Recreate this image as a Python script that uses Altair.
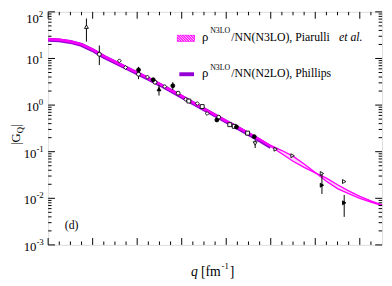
import altair as alt
import pandas as pd

FONT = "Liberation Serif"
W, H = 341, 238
MAGENTA = "#ff00ff"
VIOLET = "#9400d3"

# ---------------- curves ----------------
q_phillips = [0, 0.25, 0.5, 0.75, 1.0, 1.25, 1.5, 1.75, 2.0, 2.25, 2.5, 2.75,
              3.0, 3.25, 3.5, 3.75, 4.0, 4.25, 4.5, 4.75, 5.0]
g_phillips = [25.2, 24.5, 22.6, 19.5, 15.1, 10.9, 8.29, 6.30, 4.83, 3.67, 2.78, 2.06,
              1.51, 1.107, 0.811, 0.602, 0.441, 0.325, 0.240, 0.175, 0.125]

q_band = [0, 0.25, 0.5, 0.75, 1.0, 1.25, 1.5, 1.75, 2.0, 2.25, 2.5, 2.75,
          3.0, 3.25, 3.5, 3.75, 4.0, 4.25, 4.5, 4.75, 5.0,
          5.25, 5.5, 5.75, 6.0, 6.25, 6.5, 6.75, 7.0, 7.25, 7.5]
g_band_a = [26.5, 25.8, 23.8, 20.6, 15.9, 11.5, 8.74, 6.64, 5.09, 3.87, 2.93, 2.17,
            1.59, 1.167, 0.855, 0.634, 0.465, 0.349, 0.258, 0.189, 0.136,
            0.106, 0.0804, 0.0543, 0.0359, 0.0232, 0.0162, 0.0126, 0.0100, 0.00828, 0.00695]
g_band_b = [25.1, 24.4, 22.6, 19.5, 15.1, 10.9, 8.27, 6.28, 4.82, 3.66, 2.77, 2.05,
            1.51, 1.104, 0.809, 0.600, 0.440, 0.330, 0.244, 0.179, 0.129,
            0.0902, 0.0624, 0.0462, 0.0351, 0.0272, 0.0195, 0.0145, 0.0110, 0.00875, 0.00721]

# ---------------- data points ----------------
tri_up_open_q = [0.86]
tri_up_open_g = [48]
circ_open_q = [1.15, 2.03, 2.40, 2.92, 3.83]
circ_open_g = [12.3, 4.6, 3.1, 1.8, 0.55]
diam_open_q = [1.60, 1.74, 2.23, 2.62, 3.09, 3.35, 3.57]
diam_open_g = [8.9, 6.4, 4.0, 2.5, 1.33, 1.08, 0.66]
sq_open_q = [3.16, 3.46, 4.08, 4.18, 4.48]
sq_open_g = [1.22, 0.93, 0.38, 0.35, 0.25]
circ_fill_q = [2.03, 2.36, 2.80, 3.79, 4.23, 4.63]
circ_fill_g = [5.7, 3.5, 2.6, 0.48, 0.34, 0.21]
tri_up_fill_q = [2.49]
tri_up_fill_g = [2.2]
tri_dn_open_q = [4.65]
tri_dn_open_g = [0.15]
tri_rt_open_q = [5.11, 5.49, 6.15, 6.65]
tri_rt_open_g = [0.113, 0.082, 0.034, 0.0229]
tri_rt_fill_q = [6.15, 6.65]
tri_rt_fill_g = [0.0191, 0.0080]

err_q = [0.86, 1.15, 2.03, 2.03, 2.49, 2.80, 4.65, 6.15, 6.65]
err_lo = [23, 7.2, 3.6, 5.0, 1.6, 2.1, 0.12, 0.0124, 0.0040]
err_hi = [72, 19, 5.2, 6.6, 2.7, 3.1, 0.18, 0.035, 0.0118]

# ---------------- axes ----------------
x_major = [0, 1, 2, 3, 4, 5, 6, 7]
x_minor = [0.25, 0.5, 0.75, 1.25, 1.5, 1.75, 2.25, 2.5, 2.75, 3.25, 3.5, 3.75,
           4.25, 4.5, 4.75, 5.25, 5.5, 5.75, 6.25, 6.5, 6.75, 7.25]
y_major = [1e-3, 1e-2, 1e-1, 1e0, 1e1, 1e2]
y_exp = ["-3", "-2", "-1", "0", "1", "2"]
y_minor = [m * d for d in [1e-3, 1e-2, 1e-1, 1e0, 1e1] for m in range(2, 10)]

xscale = alt.Scale(domain=[0, 7.5], nice=False, zero=False)
yscale = alt.Scale(type="log", domain=[1e-3, 1e2], nice=False)


def X(field, axis=None):
    return alt.X(f"{field}:Q", scale=xscale, axis=axis)


def Y(field):
    return alt.Y(f"{field}:Q", scale=yscale, axis=None)


dummy = pd.DataFrame({"d": [0]})


def label(text, x, y, size=12, align="left", baseline="alphabetic", **kw):
    return alt.Chart(dummy).mark_text(
        text=text, font=FONT, fontSize=size, align=align, baseline=baseline,
        color="black", **kw
    ).encode(x=alt.value(x), y=alt.value(y))


layers = []

band_df = pd.DataFrame({"q": q_band, "a": g_band_a, "b": g_band_b})
phil_df = pd.DataFrame({"q": q_phillips, "g": g_phillips})

layers.append(alt.Chart(phil_df).mark_line(color=VIOLET, strokeWidth=4).encode(
    x=X("q", axis=alt.Axis(values=x_major, ticks=False, domain=False, grid=False,
                           labelFont=FONT, labelFontSize=13, labelColor="black",
                           labelPadding=3, title=None, format="d")),
    y=Y("g")))
layers.append(alt.Chart(band_df).mark_area(color=MAGENTA, opacity=0.18).encode(
    x=X("q"), y=Y("a"), y2="b:Q"))
layers.append(alt.Chart(band_df).mark_line(color=MAGENTA, strokeWidth=1.4).encode(
    x=X("q"), y=Y("a")))
layers.append(alt.Chart(band_df).mark_line(color=MAGENTA, strokeWidth=1.4).encode(
    x=X("q"), y=Y("b")))

# error bars
err_df = pd.DataFrame({"q": err_q, "lo": err_lo, "hi": err_hi})
layers.append(alt.Chart(err_df).mark_rule(color="black", strokeWidth=1).encode(
    x=X("q"), y=Y("lo"), y2="hi:Q"))

# markers
series = [
    (tri_up_open_q, tri_up_open_g, "triangle-up", False),
    (circ_open_q, circ_open_g, "circle", False),
    (diam_open_q, diam_open_g, "diamond", False),
    (sq_open_q, sq_open_g, "square", False),
    (circ_fill_q, circ_fill_g, "circle", True),
    (tri_up_fill_q, tri_up_fill_g, "triangle-up", True),
    (tri_dn_open_q, tri_dn_open_g, "triangle-down", False),
    (tri_rt_open_q, tri_rt_open_g, "triangle-right", False),
    (tri_rt_fill_q, tri_rt_fill_g, "triangle-right", True),
]
for qs, gs, shape, filled in series:
    df = pd.DataFrame({"q": qs, "g": gs})
    layers.append(alt.Chart(df).mark_point(
        shape=shape, filled=True, fill="black" if filled else "white",
        stroke="black", strokeWidth=0.9, size=16, opacity=1).encode(
        x=X("q"), y=Y("g")))

# ticks (inward)
xmaj = pd.DataFrame({"q": x_major})
xmin = pd.DataFrame({"q": x_minor})
ymaj = pd.DataFrame({"v": y_major, "e": y_exp})
ymin = pd.DataFrame({"v": y_minor})
for df, ln in [(xmaj, 7), (xmin, 3.5)]:
    layers.append(alt.Chart(df).mark_rule(color="black", strokeWidth=1).encode(
        x=X("q"), y=alt.value(H), y2=alt.value(H - ln)))
    layers.append(alt.Chart(df).mark_rule(color="black", strokeWidth=1).encode(
        x=X("q"), y=alt.value(0), y2=alt.value(ln)))
for df, ln in [(ymaj, 7), (ymin, 3.5)]:
    layers.append(alt.Chart(df).mark_rule(color="black", strokeWidth=1).encode(
        y=Y("v"), x=alt.value(0), x2=alt.value(ln)))
    layers.append(alt.Chart(df).mark_rule(color="black", strokeWidth=1).encode(
        y=Y("v"), x=alt.value(W), x2=alt.value(W - ln)))

# y tick labels 10^n  (top one sits lower so that it stays inside the frame)
top = ymaj[ymaj["e"] == "2"]
pos = ymaj[(~ymaj["e"].str.startswith("-")) & (ymaj["e"] != "2")]
neg = ymaj[ymaj["e"].str.startswith("-")]
for df, xr, dy in [(pos, -9.5, 0), (neg, -12, 0), (top, -9.5, 5)]:
    layers.append(alt.Chart(df).mark_text(
        text="10", font=FONT, fontSize=13, align="right", baseline="middle",
        dy=2 + dy, color="black").encode(y=Y("v"), x=alt.value(xr)))
    layers.append(alt.Chart(df).mark_text(
        font=FONT, fontSize=9, align="left", baseline="middle", dy=-3 + dy,
        color="black").encode(y=Y("v"), x=alt.value(xr), text="e:N"))

# y title |G_Q|
layers.append(label("|G", -29, 136, size=13, angle=270))
layers.append(label("Q", -25.5, 124, size=9, angle=270))
layers.append(label("|", -29, 117.5, size=13, angle=270))

# x title q [fm^-1]
layers.append(label("q", 146, 270, size=14, fontStyle="italic"))
layers.append(label("[fm", 156, 270, size=14))
layers.append(label("-1", 177, 263, size=9))
layers.append(label("]", 185.5, 270, size=14))

# panel tag
layers.append(label("(d)", 17, 222, size=12))

# legend: hatched swatch
sx0, sx1, sy0, sy1 = 132, 149.5, 24, 30
layers.append(alt.Chart(dummy).mark_rect(fill=MAGENTA, stroke=MAGENTA, strokeWidth=1).encode(
    x=alt.value(sx0), x2=alt.value(sx1), y=alt.value(sy0), y2=alt.value(sy1)))
hh = sy1 - sy0
s = sx0 - hh
while s < sx1:
    xa, ya = s, sy0
    xb, yb = s + hh, sy1
    if xa < sx0:
        ya = sy0 + (sx0 - xa)
        xa = sx0
    if xb > sx1:
        yb = sy1 - (xb - sx1)
        xb = sx1
    if xb > xa:
        layers.append(alt.Chart(dummy).mark_rule(color="white", strokeWidth=0.9).encode(
            x=alt.value(xa), x2=alt.value(xb), y=alt.value(ya), y2=alt.value(yb)))
    s += 2.6
layers.append(alt.Chart(dummy).mark_rule(color=VIOLET, strokeWidth=4).encode(
    x=alt.value(134), x2=alt.value(149), y=alt.value(63.7)))
for yb_, txt in [(30, "/NN(N3LO), Piarulli"), (67, "/NN(N2LO), Phillips")]:
    layers.append(label("\u03c1", 157, yb_, size=13))
    layers.append(label("N3LO", 165.5, yb_ - 8, size=8))
    layers.append(label(txt, 187, yb_, size=12))
layers.append(label("et al.", 297, 30, size=12, fontStyle="italic"))

chart = alt.layer(*layers).properties(
    width=W, height=H,
    autosize=alt.AutoSizeParams(type="none"),
    padding={"left": 41, "top": 1, "right": 2, "bottom": 38},
).configure_view(stroke="black", strokeWidth=1).configure(background="white")

chart.save("out.html", embed_options={"renderer": "svg", "actions": False})
